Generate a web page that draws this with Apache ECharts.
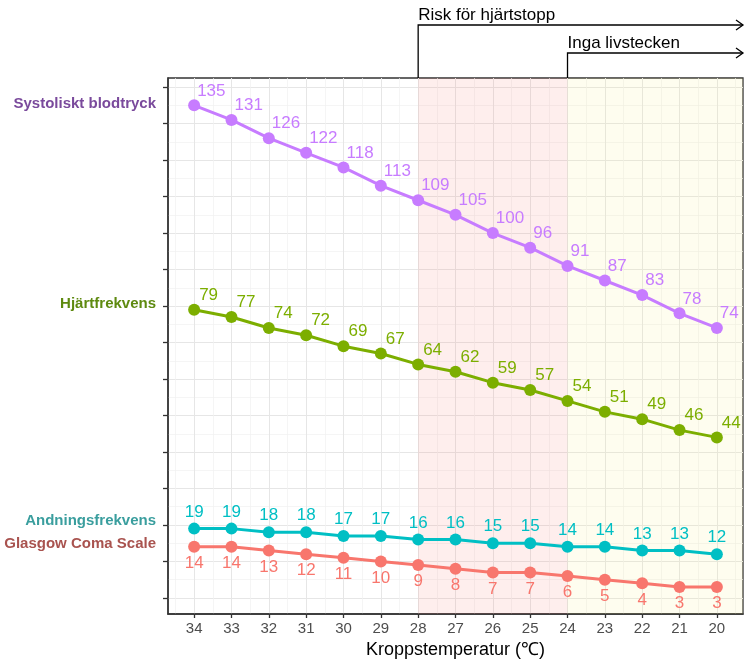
<!DOCTYPE html>
<html>
<head>
<meta charset="utf-8">
<script src="https://cdn.jsdelivr.net/npm/echarts@6/dist/echarts.min.js"></script>
<style>
  html, body { margin: 0; padding: 0; background: #fff; }
  #main { width: 750px; height: 672px; }
</style>
</head>
<body>
<div id="main"></div>
<script>
// kroppstemperatur (x-axeln, fallande)
var temps = [34, 33, 32, 31, 30, 29, 28, 27, 26, 25, 24, 23, 22, 21, 20];

var sysBp = [135, 131, 126, 122, 118, 113, 109, 105, 100, 96, 91, 87, 83, 78, 74];
var heartRate = [79, 77, 74, 72, 69, 67, 64, 62, 59, 57, 54, 51, 49, 46, 44];
var respRate = [19, 19, 18, 18, 17, 17, 16, 16, 15, 15, 14, 14, 13, 13, 12];
var gcs = [14, 14, 13, 12, 11, 10, 9, 8, 7, 7, 6, 5, 4, 3, 3];

var seriesNames = ['Systoliskt blodtryck', 'Hjärtfrekvens', 'Andningsfrekvens', 'Glasgow Coma Scale'];
var labelAt = [135.3, 80.5, 21.2, 14.8];   // var namnen står på y-axeln
var yTicks = [0, 10, 20, 30, 40, 50, 60, 70, 80, 90, 100, 110, 120, 130, 140];
var yMinor = [5, 15, 25, 35, 45, 55, 65, 75, 85, 95, 105, 115, 125, 135];
var xMinor = [19.5, 20.5, 21.5, 22.5, 23.5, 24.5, 25.5, 26.5, 27.5, 28.5, 29.5, 30.5, 31.5, 32.5, 33.5, 34.5];

var zones = [
  {name: 'Risk för hjärtstopp', from: 28},
  {name: 'Inga livstecken', from: 24}
];

var X_MIN = 19.3, X_MAX = 34.7, Y_MIN = -4.4, Y_MAX = 142.5;
var FONT = '"Liberation Sans", Arial, sans-serif';

var colors = ['#C77CFF', '#7CAE00', '#00BFC4', '#F8766D'];
var nameColors = ['#7a4a9c', '#5e8a10', '#3a9e9e', '#a9534f'];

function pairs(vals) {
  return temps.map(function (t, i) { return [t, vals[i]]; });
}

var chart = echarts.init(document.getElementById('main'), null, {renderer: 'canvas'});

var richNames = {};
seriesNames.forEach(function (n, i) {
  richNames['s' + i] = {color: nameColors[i], fontWeight: 'bold', fontSize: 15, fontFamily: FONT};
});

function lineSeries(idx, vals, label) {
  return {
    name: seriesNames[idx],
    type: 'line',
    data: pairs(vals),
    z: 3,
    symbol: 'circle',
    symbolSize: 12,
    color: colors[idx],
    lineStyle: {width: 3, color: colors[idx]},
    itemStyle: {color: colors[idx]},
    label: Object.assign({show: true, color: colors[idx], fontSize: 17, fontFamily: FONT}, label),
    animation: false
  };
}

var option = {
  backgroundColor: '#fff',
  animation: false,
  grid: {
    left: 168, right: 7, top: 78, bottom: 58,
    show: true, borderColor: '#333', borderWidth: 1.3, backgroundColor: '#fff'
  },
  xAxis: [{
    type: 'value', inverse: true, min: X_MIN, max: X_MAX,
    name: 'Kroppstemperatur (℃)', nameLocation: 'middle', nameGap: 25,
    nameTextStyle: {color: '#000', fontSize: 18, fontFamily: FONT},
    axisLine: {show: true, onZero: false, lineStyle: {color: '#333', width: 1.5}},
    axisTick: {show: true, length: 4, customValues: temps, lineStyle: {color: '#333', width: 1.3}},
    axisLabel: {customValues: temps, color: '#4d4d4d', fontSize: 15, fontFamily: FONT, margin: 7},
    splitLine: {show: true, lineStyle: {color: '#e6e6e6', width: 1}}
  }, {
    type: 'value', inverse: true, min: X_MIN, max: X_MAX,
    axisLine: {show: false, onZero: false}, axisLabel: {show: false},
    axisTick: {show: false, customValues: xMinor},
    splitLine: {show: true, lineStyle: {color: '#f0f0f0', width: 0.7}}
  }],
  yAxis: [{
    type: 'value', min: Y_MIN, max: Y_MAX,
    axisLine: {show: true, onZero: false, lineStyle: {color: '#333', width: 1.5}},
    axisTick: {show: true, length: 5, customValues: yTicks, lineStyle: {color: '#333', width: 1.3}},
    axisLabel: {
      customValues: labelAt, margin: 12,
      formatter: function (v) {
        for (var i = 0; i < labelAt.length; i++) {
          if (Math.abs(labelAt[i] - v) < 1e-6) return '{s' + i + '|' + seriesNames[i] + '}';
        }
        return '';
      },
      rich: richNames
    },
    splitLine: {show: true, lineStyle: {color: '#e6e6e6', width: 1}}
  }, {
    type: 'value', min: Y_MIN, max: Y_MAX,
    axisLine: {show: false, onZero: false}, axisLabel: {show: false},
    axisTick: {show: false, customValues: yMinor},
    splitLine: {show: true, lineStyle: {color: '#f0f0f0', width: 0.7}}
  }],
  series: [
    {
      type: 'line', data: [], z: 1, silent: true,
      markArea: {
        silent: true,
        data: [
          [{xAxis: zones[0].from, itemStyle: {color: 'rgba(248,118,109,0.12)'}}, {xAxis: zones[1].from}],
          [{xAxis: zones[1].from, itemStyle: {color: 'rgba(245,240,120,0.12)'}}, {xAxis: X_MIN}]
        ]
      }
    },
    lineSeries(0, sysBp, {position: 'top', align: 'left', offset: [3, 0], distance: 0}),
    lineSeries(1, heartRate, {position: 'top', align: 'left', offset: [5, 0], distance: 0}),
    lineSeries(2, respRate, {position: 'top', distance: 2}),
    lineSeries(3, gcs, {position: 'bottom', distance: 2})
  ]
};

chart.setOption(option);

// pilarna ovanför diagrammet
var gTop = 78, rightX = 750 - 7;
var arrowY = [25, 53];
var graphics = [];
zones.forEach(function (z, i) {
  var x = chart.convertToPixel({xAxisIndex: 0}, z.from);
  var y = arrowY[i];
  graphics.push({
    type: 'polyline', silent: true,
    shape: {points: [[x, gTop], [x, y], [rightX, y]]},
    style: {stroke: '#000', lineWidth: 1.3, fill: null}
  });
  graphics.push({
    type: 'polyline', silent: true,
    shape: {points: [[rightX - 7, y - 5], [rightX, y], [rightX - 7, y + 5]]},
    style: {stroke: '#000', lineWidth: 1.3, fill: null}
  });
  graphics.push({
    type: 'text', silent: true,
    style: {
      text: z.name, x: x, y: y - 10, textAlign: 'left', textVerticalAlign: 'middle',
      fill: '#000', fontSize: 17, fontFamily: FONT
    }
  });
});
chart.setOption({graphic: graphics});
</script>
</body>
</html>
